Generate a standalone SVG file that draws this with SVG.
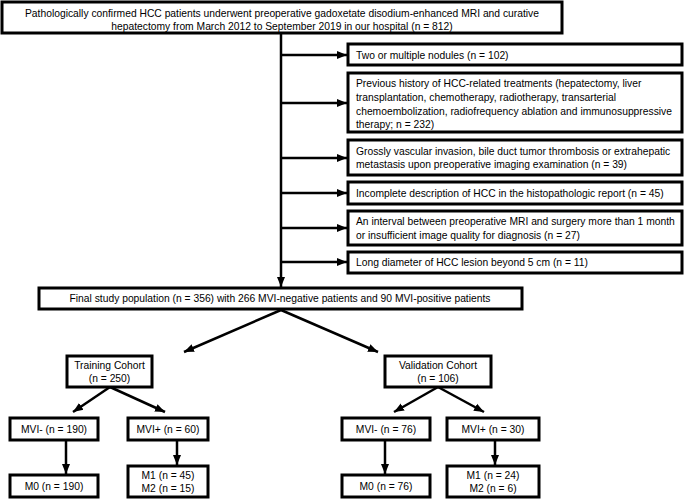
<svg xmlns="http://www.w3.org/2000/svg" width="684" height="502" viewBox="0 0 684 502">
<defs>
<marker id="ah" markerUnits="userSpaceOnUse" markerWidth="10" markerHeight="10" viewBox="0 0 10 10" refX="10" refY="5" orient="auto">
<path d="M0,1 L10,5 L0,9 z" fill="#000"/>
</marker>
<style>
.box{fill:#fff;stroke:#000;stroke-width:3}
.t{font-family:"Liberation Sans",Arial,sans-serif;font-size:10.3px;fill:#000}
.c{text-anchor:middle}
.ar{stroke:#000;stroke-width:2.5;fill:none;marker-end:url(#ah)}
</style>
</defs>
<rect width="684" height="502" fill="#fff"/>
<g id="connectors">
<line class="ar" x1="281" y1="33" x2="281" y2="287"/>
<line class="ar" x1="281" y1="55" x2="347" y2="55"/>
<line class="ar" x1="281" y1="103" x2="347" y2="103"/>
<line class="ar" x1="281" y1="158" x2="347" y2="158"/>
<line class="ar" x1="281" y1="193" x2="347" y2="193"/>
<line class="ar" x1="281" y1="228" x2="347" y2="228"/>
<line class="ar" x1="281" y1="262" x2="347" y2="262"/>
<line class="ar" x1="281" y1="310" x2="184" y2="352"/>
<line class="ar" x1="281" y1="310" x2="378" y2="352"/>
<line class="ar" x1="110" y1="387" x2="73" y2="412"/>
<line class="ar" x1="110" y1="387" x2="165" y2="412"/>
<line class="ar" x1="438" y1="387" x2="394" y2="412"/>
<line class="ar" x1="438" y1="387" x2="484" y2="412"/>
<line class="ar" x1="66" y1="440" x2="66" y2="474"/>
<line class="ar" x1="177" y1="440" x2="177" y2="465"/>
<line class="ar" x1="385" y1="440" x2="385" y2="474"/>
<line class="ar" x1="495" y1="440" x2="495" y2="465"/>
</g>
<g id="top">
<rect class="box" x="2" y="2" width="560" height="31"/>
<text class="t c" x="282" y="17">Pathologically confirmed HCC patients underwent preoperative gadoxetate disodium-enhanced MRI and curative</text>
<text class="t c" x="282" y="30">hepatectomy from March 2012 to September 2019 in our hospital (n = 812)</text>
</g>
<g id="ex1">
<rect class="box" x="348" y="44" width="334" height="21"/>
<text class="t" x="356" y="58.5">Two or multiple nodules (n = 102)</text>
</g>
<g id="ex2">
<rect class="box" x="348" y="73" width="334" height="59"/>
<text class="t" x="356" y="87">Previous history of HCC-related treatments (hepatectomy, liver</text>
<text class="t" x="356" y="101">transplantation, chemotherapy, radiotherapy, transarterial</text>
<text class="t" x="356" y="115">chemoembolization, radiofrequency ablation and immunosuppressive</text>
<text class="t" x="356" y="128">therapy; n = 232)</text>
</g>
<g id="ex3">
<rect class="box" x="348" y="140" width="334" height="35"/>
<text class="t" x="356" y="155">Grossly vascular invasion, bile duct tumor thrombosis or extrahepatic</text>
<text class="t" x="356" y="168">metastasis upon preoperative imaging examination (n = 39)</text>
</g>
<g id="ex4">
<rect class="box" x="348" y="182" width="334" height="22"/>
<text class="t" x="356" y="196.5">Incomplete description of HCC in the histopathologic report (n = 45)</text>
</g>
<g id="ex5">
<rect class="box" x="348" y="211" width="334" height="34"/>
<text class="t" x="356" y="225">An interval between preoperative MRI and surgery more than 1 month</text>
<text class="t" x="356" y="239">or insufficient image quality for diagnosis (n = 27)</text>
</g>
<g id="ex6">
<rect class="box" x="348" y="252" width="334" height="21"/>
<text class="t" x="356" y="266">Long diameter of HCC lesion beyond 5 cm (n = 11)</text>
</g>
<g id="final">
<rect class="box" x="39" y="288" width="483" height="21"/>
<text class="t c" x="280" y="302">Final study population (n = 356) with 266 MVI-negative patients and 90 MVI-positive patients</text>
</g>
<g id="training">
<rect class="box" x="67" y="356" width="85" height="31"/>
<text class="t c" x="109.5" y="369">Training Cohort</text>
<text class="t c" x="109.5" y="382">(n = 250)</text>
</g>
<g id="validation">
<rect class="box" x="385" y="356" width="106" height="31"/>
<text class="t c" x="438" y="369">Validation Cohort</text>
<text class="t c" x="438" y="382">(n = 106)</text>
</g>
<g id="t_neg">
<rect class="box" x="10" y="418" width="88" height="22"/>
<text class="t c" x="54" y="432.5">MVI- (n = 190)</text>
</g>
<g id="t_pos">
<rect class="box" x="128" y="418" width="80" height="22"/>
<text class="t c" x="168" y="432.5">MVI+ (n = 60)</text>
</g>
<g id="t_m0">
<rect class="box" x="10" y="475" width="88" height="22"/>
<text class="t c" x="54" y="489.5">M0 (n = 190)</text>
</g>
<g id="t_m12">
<rect class="box" x="128" y="466" width="80" height="31"/>
<text class="t c" x="168" y="479">M1 (n = 45)</text>
<text class="t c" x="168" y="492">M2 (n = 15)</text>
</g>
<g id="v_neg">
<rect class="box" x="342" y="418" width="88" height="22"/>
<text class="t c" x="386" y="432.5">MVI- (n = 76)</text>
</g>
<g id="v_pos">
<rect class="box" x="447" y="418" width="92" height="22"/>
<text class="t c" x="493" y="432.5">MVI+ (n = 30)</text>
</g>
<g id="v_m0">
<rect class="box" x="342" y="475" width="88" height="22"/>
<text class="t c" x="386" y="489.5">M0 (n = 76)</text>
</g>
<g id="v_m12">
<rect class="box" x="447" y="466" width="92" height="31"/>
<text class="t c" x="493" y="479">M1 (n = 24)</text>
<text class="t c" x="493" y="492">M2 (n = 6)</text>
</g>
</svg>
